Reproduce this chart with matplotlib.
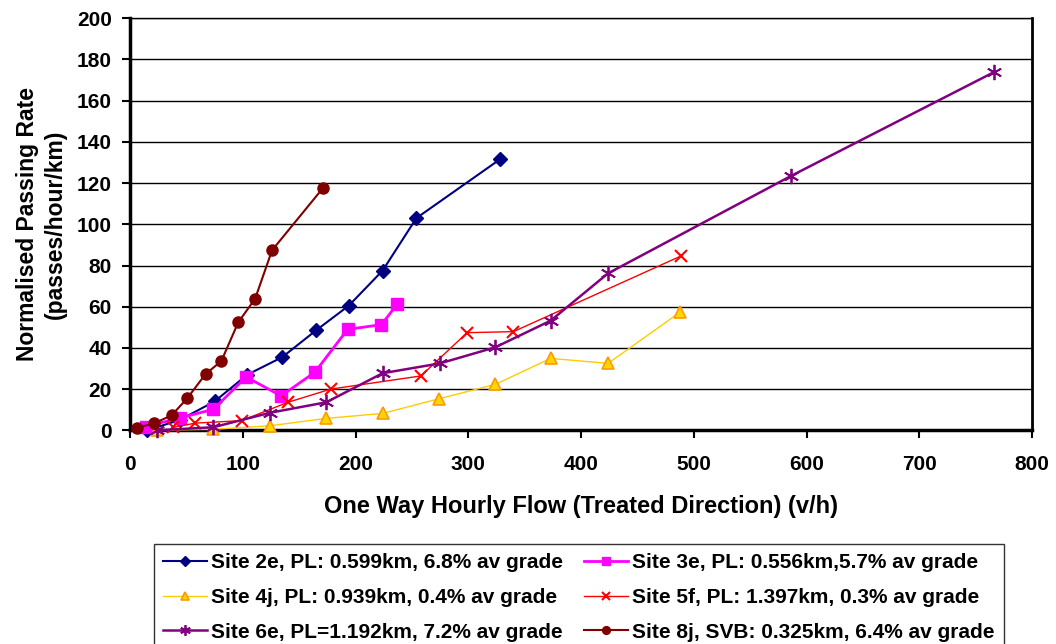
import matplotlib.pyplot as plt
from matplotlib.ticker import MultipleLocator

plt.rcParams["font.family"] = ["Liberation Sans", "DejaVu Sans"]
plt.rcParams["font.weight"] = "bold"

# Site 2e
x_2e = [15, 44, 75, 104, 135, 165, 194, 224, 254, 328]
y_2e = [0, 5, 14, 27, 35.5, 48.5, 60.5, 77.5, 103, 131.5]
# Site 3e
x_3e = [14, 44, 74, 103, 134, 164, 193, 223, 237]
y_3e = [1.8, 6, 10.2, 25.9, 16.7, 28.2, 49, 51.3, 61.2]
# Site 4j
x_4j = [24, 74, 124, 174, 224, 274, 324, 373, 424, 488]
y_4j = [0, 0.5, 2.2, 5.8, 8.2, 15.3, 22.3, 34.9, 32.5, 57.4]
# Site 5f
x_5f = [38, 58, 99, 140, 178, 258, 299, 340, 489]
y_5f = [1.4, 3.5, 4.7, 13.6, 20, 26.4, 47.4, 47.9, 84.7]
# Site 6e
x_6e = [24, 74, 124, 174, 224, 275, 324, 373, 424, 586, 766]
y_6e = [0, 1.5, 8.5, 13.6, 27.7, 32.5, 40.3, 53.2, 76.2, 123.4, 173.8]
# Site 8j
x_8j = [6, 21.5, 37, 51, 67, 81, 96, 111, 126, 171]
y_8j = [1.2, 3.4, 7.3, 15.7, 27.3, 33.6, 52.4, 63.9, 87.4, 117.5]

labels = [
    "Site 2e, PL: 0.599km, 6.8% av grade",
    "Site 3e, PL: 0.556km,5.7% av grade",
    "Site 4j, PL: 0.939km, 0.4% av grade",
    "Site 5f, PL: 1.397km, 0.3% av grade",
    "Site 6e, PL=1.192km, 7.2% av grade",
    "Site 8j, SVB: 0.325km, 6.4% av grade",
]

fig = plt.figure(figsize=(10.56, 6.44), dpi=100)
ax = fig.add_axes([0.1231, 0.3318, 0.8542, 0.6398])

ax.plot(x_2e, y_2e, color="#000080", lw=1.5, marker="D", ms=7, label=labels[0], clip_on=False, zorder=3)
ax.plot(x_3e, y_3e, color="#FF00FF", lw=2, marker="s", ms=8, label=labels[1], clip_on=False, zorder=3)
ax.plot(x_4j, y_4j, color="#FFCC00", lw=1, marker="^", ms=9, mfc="#FFD700", mec="#FF9900",
        mew=1.2, label=labels[2], clip_on=False, zorder=3)
ax.plot(x_5f, y_5f, color="#FF0000", lw=1, marker="x", ms=9, mew=1.5, label=labels[3], clip_on=False, zorder=3)
ax.plot(x_6e, y_6e, color="#800080", lw=1.8, marker=(6, 2, 0), ms=11, mew=1.3, label=labels[4],
        clip_on=False, zorder=3)
ax.plot(x_8j, y_8j, color="#800000", lw=1.5, marker="o", ms=8, label=labels[5], clip_on=False, zorder=3)

ax.set_xlim(0, 800)
ax.set_ylim(0, 200)
ax.xaxis.set_major_locator(MultipleLocator(100))
ax.yaxis.set_major_locator(MultipleLocator(20))
ax.yaxis.grid(True, color="black", lw=1)
ax.set_axisbelow(True)

for side in ["left", "bottom"]:
    ax.spines[side].set_linewidth(2.5)
ax.spines["right"].set_linewidth(2)
ax.spines["top"].set_linewidth(1)

ax.tick_params(axis="both", direction="out", length=6, width=1.5, labelsize=15)
ax.tick_params(axis="x", pad=12)
ax.tick_params(axis="y", pad=7)
for lab in ax.get_xticklabels() + ax.get_yticklabels():
    lab.set_fontweight("bold")

ax.set_xlabel("One Way Hourly Flow (Treated Direction) (v/h)", fontsize=17, fontweight="bold", labelpad=15)
ax.set_ylabel("Normalised Passing Rate\n(passes/hour/km)", fontsize=16.5, fontweight="bold",
              labelpad=7, linespacing=1.3)

# legend filled row by row like the original
handles, labs = ax.get_legend_handles_labels()
order = [0, 2, 4, 1, 3, 5]
leg = fig.legend(
    [handles[i] for i in order],
    [labs[i] for i in order],
    loc="upper left",
    bbox_to_anchor=(154 / 1056, 1 - 544 / 644),
    ncol=2,
    fontsize=15,
    frameon=True,
    fancybox=False,
    edgecolor="black",
    handlelength=2.1,
    handletextpad=0.2,
    columnspacing=1.0,
    labelspacing=0.75,
    borderpad=0.45,
    borderaxespad=0,
    markerscale=0.7,
)
leg.get_frame().set_linewidth(1)
for t in leg.get_texts():
    t.set_fontweight("bold")

fig.savefig("out.png", dpi=100)
